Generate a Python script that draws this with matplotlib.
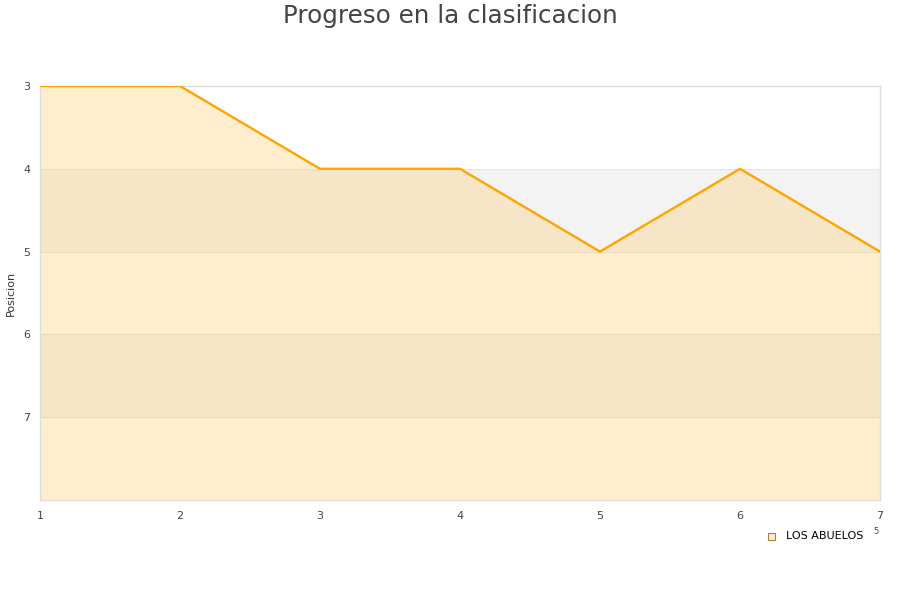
import matplotlib.pyplot as plt
from matplotlib.patches import Rectangle

# chart data
jornadas = [1, 2, 3, 4, 5, 6, 7]
posiciones = [3, 3, 4, 4, 5, 4, 5]
y_ticks = [3, 4, 5, 6, 7]
equipo = "LOS ABUELOS"

fig = plt.figure(figsize=(9, 6), dpi=100)
ax = fig.add_axes([40 / 900, 100 / 600, 840 / 900, 414 / 600])

ax.set_xlim(1, 7)
ax.set_ylim(8, 3)

# alternating horizontal bands
for i, lo in enumerate(range(3, 8)):
    if i % 2 == 1:
        ax.axhspan(lo, lo + 1, color="#f3f3f3", zorder=0, lw=0)
for t in [4, 5, 6, 7]:
    ax.axhline(t, color="#e6e6e6", lw=0.8, zorder=0.5)

# area under the line down to the bottom
ax.fill_between(jornadas, posiciones, 8, color="#ffc04d", alpha=0.27, lw=0, zorder=1)
ax.plot(jornadas, posiciones, color="#ffa500", lw=1.7, zorder=3)

ax.set_xticks(jornadas)
ax.set_yticks(y_ticks)
ax.tick_params(length=0, labelsize=8, labelcolor="#444444", pad=8)
ax.tick_params(axis="y", pad=7)
for s in ax.spines.values():
    s.set_color("#dddddd")
    s.set_linewidth(1)

ax.set_ylabel("Posicion", fontsize=8, color="#333333")
ax.yaxis.set_label_coords(-0.029, 0.5)

fig.text(0.5, 1 - 16 / 600, "Progreso en la clasificacion", ha="center", va="center",
         fontsize=17.7, color="#444444")

# legend
fig.patches.append(Rectangle((768 / 900, 1 - 540 / 600), 7 / 900, 7 / 600,
                             transform=fig.transFigure, facecolor="#ffedcc",
                             edgecolor="#b08040", lw=0.8))
fig.text(786 / 900, 1 - 536 / 600, equipo, ha="left", va="center", fontsize=8, color="#000000")
fig.text(873 / 900, 1 - 532 / 600, "5", ha="left", va="center", fontsize=6, color="#444444")

fig.savefig("out.png", dpi=100)
